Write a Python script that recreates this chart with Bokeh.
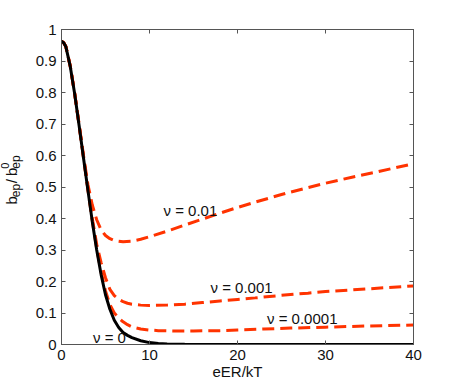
import math
from bokeh.plotting import figure
from bokeh.layouts import row
from bokeh.models import Range1d, LinearAxis, FixedTicker, Label
from bokeh.embed import file_html
from bokeh.resources import INLINE

# ---------------- data ----------------
x_nu0 = [0, 0.25, 0.5, 1, 1.5, 2, 2.5, 3, 3.5, 4, 4.5, 5, 5.5, 6, 6.5, 7, 7.5, 8, 9, 10, 11, 12, 14, 20, 30, 40]
b_nu0 = [0.963, 0.958, 0.945, 0.882, 0.795, 0.695, 0.592, 0.49, 0.39, 0.3, 0.222, 0.158, 0.112, 0.077,
         0.054, 0.038, 0.029, 0.022, 0.012, 0.006, 0.003, 0.0015, 0.0005, 0, 0, 0]

x_nu1 = [0, 0.25, 0.5, 1, 1.5, 2, 2.5, 3, 3.5, 4, 4.5, 5, 5.5, 6, 7, 8, 9, 10, 12, 14, 16, 18, 20, 22, 25, 28, 30, 33, 36, 40]
b_nu1 = [0.963, 0.958, 0.946, 0.884, 0.798, 0.699, 0.6, 0.508, 0.443, 0.396, 0.364, 0.346, 0.336, 0.33,
         0.326, 0.328, 0.334, 0.342, 0.36, 0.379, 0.398, 0.417, 0.435, 0.452, 0.476, 0.498, 0.512, 0.531,
         0.549, 0.574]

x_nu2 = [0, 0.25, 0.5, 1, 1.5, 2, 2.5, 3, 3.5, 4, 4.5, 5, 5.5, 6, 6.5, 7, 7.5, 8, 9, 10, 12, 14, 16, 18, 20, 22, 25, 28, 30, 35, 40]
b_nu2 = [0.963, 0.958, 0.945, 0.883, 0.796, 0.697, 0.595, 0.495, 0.4, 0.318, 0.26, 0.212, 0.175, 0.155,
         0.143, 0.136, 0.131, 0.128, 0.125, 0.124, 0.125, 0.128, 0.133, 0.138, 0.143, 0.148, 0.156, 0.163,
         0.168, 0.177, 0.186]

x_nu3 = [0, 0.25, 0.5, 1, 1.5, 2, 2.5, 3, 3.5, 4, 4.5, 5, 5.5, 6, 6.5, 7, 7.5, 8, 9, 10, 11, 13, 15, 18, 20, 23, 26, 30, 35, 40]
b_nu3 = [0.963, 0.958, 0.945, 0.882, 0.795, 0.696, 0.593, 0.492, 0.393, 0.305, 0.23, 0.17, 0.127, 0.1,
         0.084, 0.072, 0.063, 0.056, 0.049, 0.046, 0.044, 0.043, 0.043, 0.044, 0.046, 0.049, 0.052, 0.055,
         0.059, 0.062]

curve_labels = ["\u03bd = 0", "\u03bd = 0.01", "\u03bd = 0.001", "\u03bd = 0.0001"]

x_ticks = [0, 10, 20, 30, 40]
x_tick_labels = ["0", "10", "20", "30", "40"]
y_ticks = [0, 0.1, 0.2, 0.3, 0.4, 0.5, 0.6, 0.7, 0.8, 0.9, 1]
y_tick_labels = ["0", "0.1", "0.2", "0.3", "0.4", "0.5", "0.6", "0.7", "0.8", "0.9", "1"]

x_title = "eER/kT"
# y title pieces: b_ep / b^0_ep  (text, role)
y_title_parts = [("b", "main"), ("ep", "sub"), ("/", "main"), ("b", "main"), ("0", "sup"), ("ep", "sub")]

# ---------------- styling ----------------
FONT = "Liberation Sans"
TXT = "#111111"
RED = "#ff3300"
AXIS = "#555555"
X0, X1 = 0, 40
Y0, Y1 = 0, 1
W, H = 457, 387
WL = 28  # strip holding the rotated y title

# ---- main chart ----
p = figure(width=W - WL, height=H, x_range=Range1d(X0, X1), y_range=Range1d(Y0, Y1),
           output_backend="svg", toolbar_location=None,
           x_axis_type=None, y_axis_type=None,
           min_border_left=61 - WL, min_border_right=W - 413, min_border_top=29, min_border_bottom=H - 344,
           background_fill_color="white", border_fill_color="white")
p.grid.visible = False
p.outline_line_color = AXIS
p.outline_line_width = 1


def make_axis(ticks, labels, show_labels):
    shown = labels if show_labels else ["" for _ in labels]
    ax = LinearAxis(ticker=FixedTicker(ticks=ticks),
                    major_label_overrides=dict(zip(ticks, shown)),
                    major_tick_in=4, major_tick_out=0,
                    minor_tick_in=0, minor_tick_out=0,
                    axis_line_color=AXIS, major_tick_line_color=AXIS,
                    major_label_text_font=FONT,
                    major_label_text_font_size="15px",
                    major_label_text_color=TXT,
                    major_label_standoff=5 if show_labels else 0)
    return ax


xb = make_axis(x_ticks, x_tick_labels, True)
xb.axis_label = x_title
xb.axis_label_text_font = FONT
xb.axis_label_text_font_size = "15px"
xb.axis_label_text_font_style = "normal"
xb.axis_label_text_color = TXT
xb.axis_label_standoff = 0
p.add_layout(xb, "below")
p.add_layout(make_axis(y_ticks, y_tick_labels, True), "left")
p.add_layout(make_axis(x_ticks, x_tick_labels, False), "above")
p.add_layout(make_axis(y_ticks, y_tick_labels, False), "right")

# curves: dashed red first, black on top
for xs, ys in [(x_nu1, b_nu1), (x_nu2, b_nu2), (x_nu3, b_nu3)]:
    p.line(xs, ys, line_color=RED, line_width=3, line_dash="12 6", line_cap="butt")
p.line(x_nu0, b_nu0, line_color="black", line_width=3)


# helpers: window pixel -> data coords (frame spans x 61..413, y 29..344)
def sx(px):
    return X0 + (px - 61) / (413 - 61) * (X1 - X0)


def sy(py):
    return Y0 + (344 - py) / (344 - 29) * (Y1 - Y0)


# curve annotations (left edge, vertical centre in window pixels)
for text, px, py in [(curve_labels[0], 92.5, 337), (curve_labels[1], 163, 210),
                     (curve_labels[2], 210, 286.5), (curve_labels[3], 266.5, 317.5)]:
    p.add_layout(Label(x=sx(px), y=sy(py), text=text, text_font=FONT, text_font_size="15px",
                       text_color=TXT, text_align="left", text_baseline="middle"))

# ---- narrow strip with the rotated y title (pixel coordinates, y upward) ----
s = figure(width=WL, height=H, x_range=Range1d(0, WL), y_range=Range1d(0, H),
           output_backend="svg", toolbar_location=None, x_axis_type=None, y_axis_type=None,
           min_border=0, min_border_left=0, min_border_right=0, min_border_top=0, min_border_bottom=0,
           background_fill_color="white", border_fill_color="white")
s.grid.visible = False
s.outline_line_color = None

# role -> (font size, x of the text's centre line)
role_style = {"main": ("15px", 11.0), "sub": ("12px", 15.0), "sup": ("11px", 4.8)}
starts = [215, 206, 189, 180, 171, 171]
ang = math.pi / 2
for (text, role), start in zip(y_title_parts, starts):
    size, cx = role_style[role]
    s.add_layout(Label(x=cx, y=H - start, text=text, angle=ang, text_font=FONT,
                       text_font_size=size, text_color=TXT,
                       text_align="left", text_baseline="middle"))

layout = row(s, p, spacing=0)
open("out.html", "w").write(file_html(layout, INLINE))
